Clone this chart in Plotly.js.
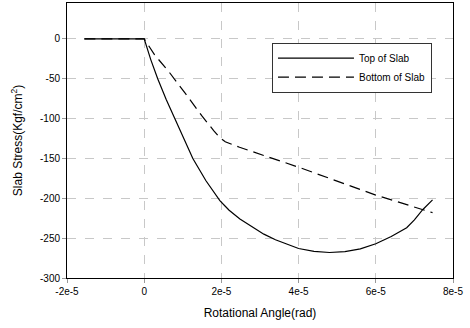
<!DOCTYPE html>
<html>
<head>
<meta charset="utf-8">
<script src="https://cdn.plot.ly/plotly-3.0.1.min.js"></script>
<style>html,body{margin:0;padding:0;background:#fff}#chart{width:470px;height:328px}</style>
</head>
<body>
<div id="chart"></div>
<script>
// Top of Slab
var topX = [-1.55e-5, 0, 0.17e-5, 0.35e-5, 0.57e-5, 0.79e-5, 1.02e-5, 1.26e-5, 1.6e-5, 1.96e-5, 2.1e-5, 2.2e-5, 2.48e-5, 2.82e-5, 3.1e-5, 3.4e-5, 3.7e-5, 4.0e-5, 4.4e-5, 4.8e-5, 5.2e-5, 5.6e-5, 6.0e-5, 6.4e-5, 6.8e-5, 7.0e-5, 7.22e-5, 7.47e-5];
var topY = [0, 0, -26, -50, -76, -100, -125, -150, -178, -203, -210, -215, -226, -237, -245, -252, -258, -263, -266.5, -268, -267, -263.5, -257, -248, -237, -227, -214, -202];
// Bottom of Slab
var botX = [-1.55e-5, 0, 0.27e-5, 0.66e-5, 1.09e-5, 1.5e-5, 1.8e-5, 1.96e-5, 2.1e-5, 2.3e-5, 2.47e-5, 4.0e-5, 6.0e-5, 7.47e-5];
var botY = [0, 0, -20, -42.5, -70, -97, -115, -124, -129, -133, -136, -161, -196, -218];
// Ticks
var xTickVals = [-2e-5, 0, 2e-5, 4e-5, 6e-5, 8e-5];
var xTickText = ['-2e-5', '0', '2e-5', '4e-5', '6e-5', '8e-5'];
var yTickVals = [-300, -250, -200, -150, -100, -50, 0];
var yTickText = ['-300', '-250', '-200', '-150', '-100', '-50', '0'];

var traces = [
  {x: topX, y: topY, mode: 'lines', name: 'Top of Slab', line: {color: '#000', width: 1.2}},
  {x: botX, y: botY, mode: 'lines', name: 'Bottom of Slab', line: {color: '#000', width: 1.2, dash: '11px,6px'}}
];

var axisCommon = {
  showline: true, linecolor: '#000', linewidth: 1, mirror: true,
  showgrid: true, gridcolor: '#c8c8c8', griddash: 'dash', gridwidth: 1,
  zeroline: false, ticks: 'outside', ticklen: 4, tickcolor: '#999',
  tickfont: {family: 'Liberation Sans, Arial, sans-serif', size: 10, color: '#000'}
};

var layout = {
  width: 470, height: 328,
  margin: {l: 67, r: 17, t: 3, b: 50},
  paper_bgcolor: '#fff', plot_bgcolor: '#fff',
  font: {family: 'Liberation Sans, Arial, sans-serif', color: '#000'},
  xaxis: Object.assign({}, axisCommon, {
    range: [-2e-5, 8e-5], tickvals: xTickVals, ticktext: xTickText,
    title: {text: 'Rotational Angle(rad)', font: {size: 12}, standoff: 12}
  }),
  yaxis: Object.assign({}, axisCommon, {
    range: [-300, 45], tickvals: yTickVals, ticktext: yTickText,
    title: {text: 'Slab Stress(Kgf/cm<sup>2</sup>)', font: {size: 12}, standoff: 14}
  }),
  showlegend: true,
  legend: {
    x: 0.531, y: 0.856, xanchor: 'left', yanchor: 'top',
    bgcolor: '#fff', bordercolor: '#333', borderwidth: 1,
    font: {size: 10, family: 'Liberation Sans, Arial, sans-serif'},
    tracegroupgap: 0, itemwidth: 76
  }
};

Plotly.newPlot('chart', traces, layout, {staticPlot: true, displayModeBar: false});
</script>
</body>
</html>
